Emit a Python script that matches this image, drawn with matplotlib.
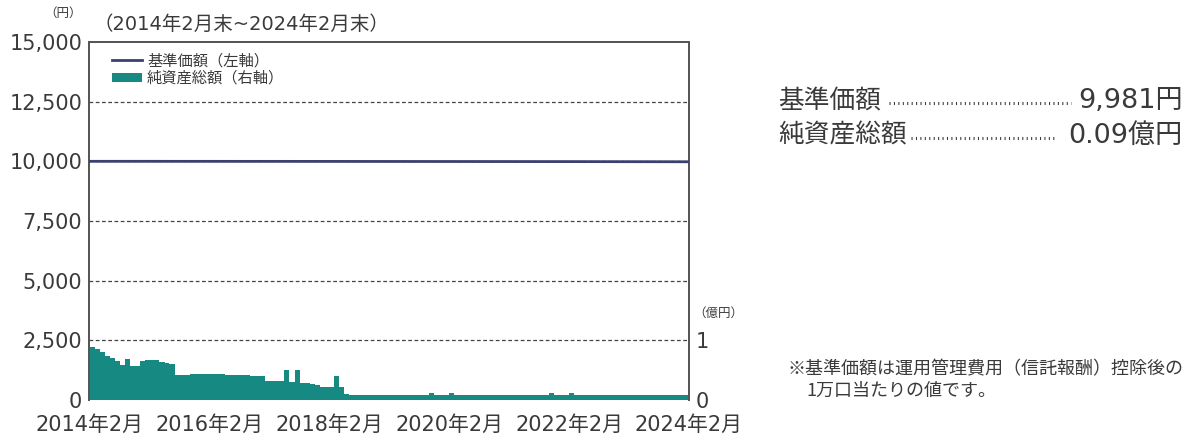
import pandas as pd
import matplotlib.pyplot as plt
from matplotlib.patches import Patch
from matplotlib.lines import Line2D

plt.rcParams['font.family'] = ['DejaVu Sans', 'Noto Sans CJK JP']
CJK = ['Noto Sans CJK JP', 'DejaVu Sans']

# 純資産総額 (億円), monthly 2014/2 - 2024/2
asset_months = pd.date_range('2014-02-28', '2024-02-29', freq='ME')
net_assets = [
    0.88, 0.85, 0.80, 0.73, 0.70, 0.66, 0.58, 0.69, 0.57, 0.57, 0.66, 0.67,
    0.67, 0.67, 0.64, 0.62, 0.60, 0.42, 0.42, 0.42, 0.43, 0.43, 0.43, 0.43,
    0.43, 0.43, 0.43, 0.42, 0.42, 0.42, 0.42, 0.42, 0.41, 0.41, 0.40, 0.32,
    0.32, 0.32, 0.31, 0.50, 0.30, 0.50, 0.29, 0.28, 0.26, 0.25, 0.22, 0.21,
    0.21, 0.40, 0.21, 0.10, 0.09, 0.09, 0.09, 0.09, 0.09, 0.09, 0.09, 0.09,
    0.09, 0.09, 0.09, 0.09, 0.09, 0.09, 0.09, 0.09, 0.11, 0.09, 0.09, 0.09,
    0.11, 0.09, 0.09, 0.09, 0.09, 0.09, 0.09, 0.09, 0.09, 0.09, 0.09, 0.09,
    0.09, 0.09, 0.09, 0.09, 0.09, 0.09, 0.09, 0.09, 0.11, 0.09, 0.09, 0.09,
    0.11, 0.09, 0.09, 0.09, 0.09, 0.09, 0.09, 0.09, 0.09, 0.09, 0.09, 0.09,
    0.09, 0.09, 0.09, 0.09, 0.09, 0.09, 0.09, 0.09, 0.09, 0.09, 0.09, 0.09,
    0.09,
]

# 基準価額 (円), semiannual
nav_dates = pd.date_range('2014-02-28', '2024-02-29', freq='6ME')
nav = [10000, 10000, 10000, 9999, 9999, 9998, 9998, 9997, 9996, 9995, 9994,
       9993, 9992, 9991, 9990, 9989, 9988, 9986, 9985, 9983, 9981]

left_ticks = [0, 2500, 5000, 7500, 10000, 12500, 15000]
left_labels = ['0', '2,500', '5,000', '7,500', '10,000', '12,500', '15,000']
x_ticks = pd.to_datetime(['2014-02-28', '2016-02-29', '2018-02-28',
                          '2020-02-29', '2022-02-28', '2024-02-29'])
x_labels = ['2014年2月', '2016年2月', '2018年2月', '2020年2月', '2022年2月', '2024年2月']

teal = '#168a82'
navy = '#3c4070'
txt = '#3a3a3a'
edge = '#555555'

fig = plt.figure(figsize=(11.97, 4.41), dpi=100)
ax = fig.add_axes([0.0744, 0.0930, 0.5012, 0.8118])
ax2 = ax.twinx()

ax2.fill_between(asset_months, net_assets, step='post', color=teal, lw=0)
ax2.set_ylim(0, 6)
ax2.set_yticks([0, 1])
ax2.set_yticklabels(['0', '1'])

for y in left_ticks[1:-1]:
    ax.axhline(y, color='#444444', lw=0.9, ls=(0, (3, 2)), zorder=1)
ax.plot(nav_dates, nav, color=navy, lw=2, zorder=5)
ax.set_zorder(ax2.get_zorder() + 1)
ax.patch.set_visible(False)

ax.set_ylim(0, 15000)
ax.set_xlim(pd.Timestamp('2014-02-25'), pd.Timestamp('2024-02-29'))
ax.set_yticks(left_ticks)
ax.set_yticklabels(left_labels)
ax.set_xticks(x_ticks)
ax.set_xticklabels(x_labels)

for a in (ax, ax2):
    a.tick_params(length=0, labelsize=15, colors=txt, pad=5)
    for s in a.spines.values():
        s.set_color(edge)
        s.set_linewidth(1.3)
    a.spines['bottom'].set_visible(False)
ax.tick_params(axis='x', pad=11)

fig.text(0.053, 0.970, '（円）', fontsize=9, color=txt, ha='center', va='center',
         family=CJK)
fig.text(0.078, 0.945, '（2014年2月末~2024年2月末）', fontsize=14, color=txt,
         ha='left', va='center')
fig.text(0.600, 0.290, '（億円）', fontsize=9, color=txt, ha='center', va='center',
         family=CJK)

handles = [Line2D([0], [0], color=navy, lw=2),
           Patch(facecolor=teal, edgecolor='none')]
ax.legend(handles, ['基準価額（左軸）', '純資産総額（右軸）'], loc='upper left',
          bbox_to_anchor=(0.015, 1.01), frameon=False,
          prop={'family': CJK, 'size': 11},
          handlelength=2.0, handleheight=0.6, labelspacing=0.05,
          handletextpad=0.3, labelcolor=txt)

# summary on the right
y1, y2 = 0.770, 0.692
fig.text(0.650, y1, '基準価額', fontsize=18.5, color=txt, ha='left', va='center',
         family=CJK)
fig.text(0.988, y1, '9,981円', fontsize=19.5, color=txt, ha='right', va='center')
fig.add_artist(Line2D([0.743, 0.895], [y1 - 0.004, y1 - 0.004], color=txt,
                      lw=2.2, ls=(0, (0.35, 1.1))))
fig.text(0.650, y2, '純資産総額', fontsize=18.5, color=txt, ha='left', va='center',
         family=CJK)
fig.text(0.988, y2, '0.09億円', fontsize=19.5, color=txt, ha='right', va='center')
fig.add_artist(Line2D([0.761, 0.883], [y2 - 0.004, y2 - 0.004], color=txt,
                      lw=2.2, ls=(0, (0.35, 1.1))))

fig.text(0.658, 0.162, '※基準価額は運用管理費用（信託報酬）控除後の', fontsize=13,
         color=txt, ha='left', va='center', family=CJK)
fig.text(0.674, 0.114, '1万口当たりの値です。', fontsize=13, color=txt,
         ha='left', va='center', family=CJK)

fig.savefig('out.png', dpi=100)
